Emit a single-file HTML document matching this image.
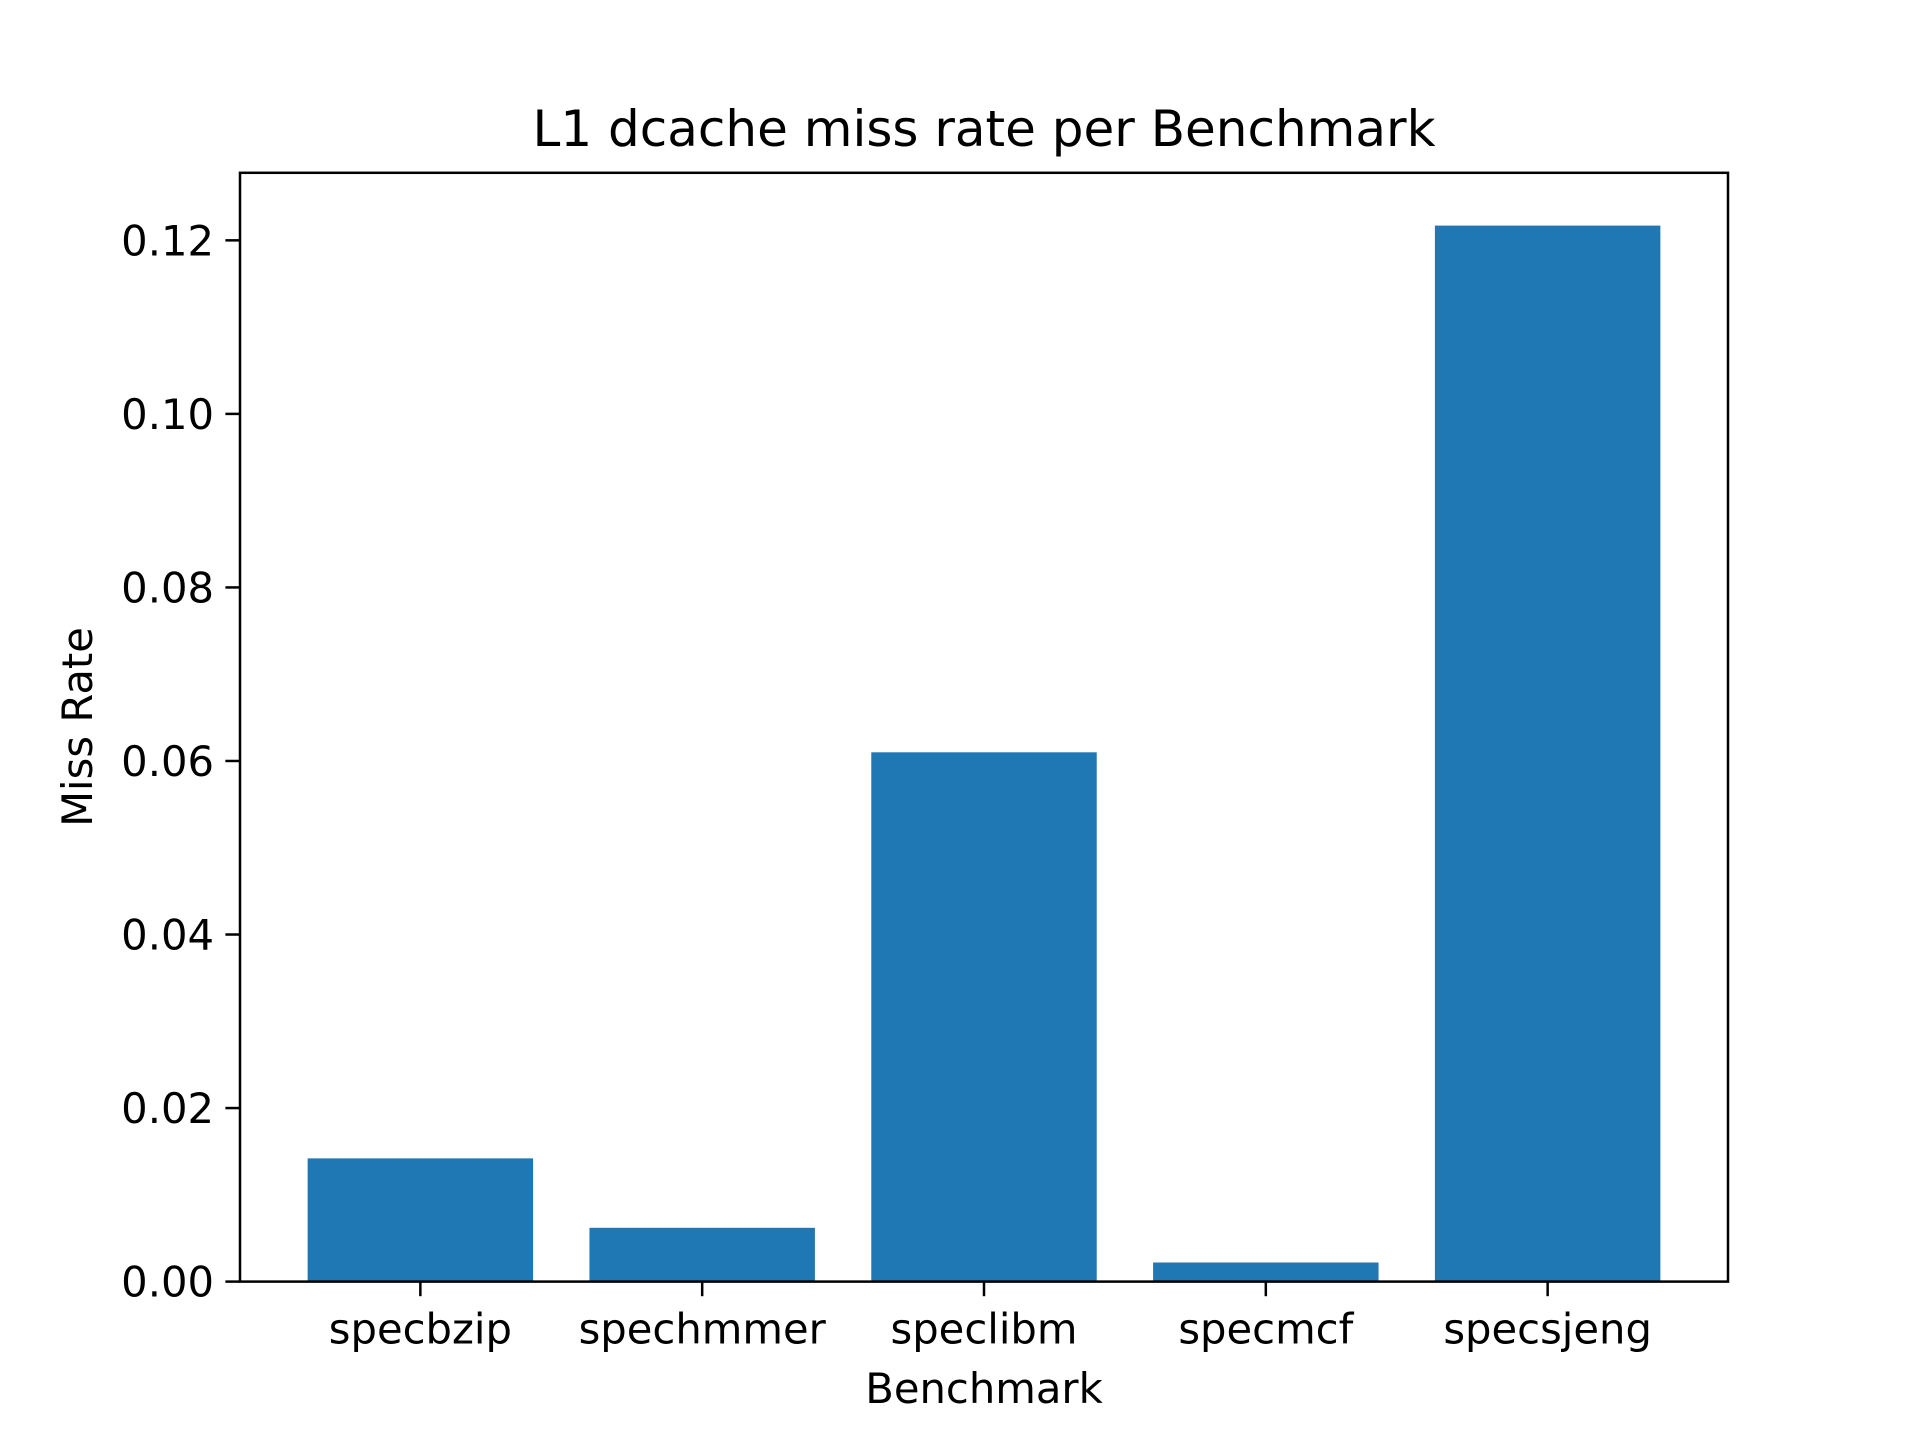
<!DOCTYPE html>
<html><head><meta charset="utf-8">
<style>
html,body{margin:0;padding:0;background:#fff;}
svg{display:block;font-family:"DejaVu Sans","Liberation Sans",sans-serif;}
</style></head>
<body>
<svg id="chart" width="1920" height="1440" viewBox="0 0 1920 1440" xmlns="http://www.w3.org/2000/svg">
<rect width="1920" height="1440" fill="#fff"/>
<text x="984" y="146" text-anchor="middle" font-size="50">L1 dcache miss rate per Benchmark</text>
<g id="bars"></g>
<g id="yticks"></g>
<g id="xticks"></g>
<rect x="240" y="172.8" width="1488" height="1108.8" fill="none" stroke="#000" stroke-width="2.5"/>
<text x="984" y="1403" text-anchor="middle" font-size="41.7">Benchmark</text>
<text transform="translate(92,727) rotate(-90)" text-anchor="middle" font-size="41.7">Miss Rate</text>
</svg>
<script>
const categories = ["specbzip","spechmmer","speclibm","specmcf","specsjeng"];
const missRates = [0.0142, 0.0062, 0.0610, 0.0022, 0.1217];
const yTickValues = [0, 0.02, 0.04, 0.06, 0.08, 0.10, 0.12];
const yTickLabels = ["0.00","0.02","0.04","0.06","0.08","0.10","0.12"];

const NS = "http://www.w3.org/2000/svg";
const L = 240, R = 1728, T = 172.8, B = 1281.6;
const n = categories.length;
const xmin = -0.4 - 0.05*(n - 1 + 0.8), xmax = n - 1 + 0.4 + 0.05*(n - 1 + 0.8);
const ymax = Math.max(...missRates) * 1.05;
const xs = v => L + (v - xmin) / (xmax - xmin) * (R - L);
const ys = v => B - v / ymax * (B - T);
function mk(tag, attrs, parent){ const e = document.createElementNS(NS, tag); for (const k in attrs) e.setAttribute(k, attrs[k]); parent.appendChild(e); return e; }

const gb = document.getElementById('bars');
missRates.forEach((v, i) => {
  const x0 = xs(i - 0.4), x1 = xs(i + 0.4);
  const r = mk('rect', {x: x0, y: ys(v), width: x1 - x0, height: B - ys(v), fill: '#1f77b4'}, gb);
  
  
});
const gy = document.getElementById('yticks');
yTickValues.forEach((v, i) => {
  const y = ys(v);
  const l = mk('line', {x1: L - 14.6, x2: L, y1: y, y2: y, stroke: '#000', 'stroke-width': 2.5}, gy);
  
  
  const t = mk('text', {x: L - 26, y: y + 15, 'text-anchor': 'end', 'font-size': 41.7}, gy);
  t.textContent = yTickLabels[i];
  
  
});
const gx = document.getElementById('xticks');
categories.forEach((c, i) => {
  const x = xs(i);
  const l = mk('line', {x1: x, x2: x, y1: B, y2: B + 14.6, stroke: '#000', 'stroke-width': 2.5}, gx);
  
  
  const t = mk('text', {x: x, y: B + 62, 'text-anchor': 'middle', 'font-size': 41.7}, gx);
  t.textContent = c;
  
  
});
</script>
</body></html>
